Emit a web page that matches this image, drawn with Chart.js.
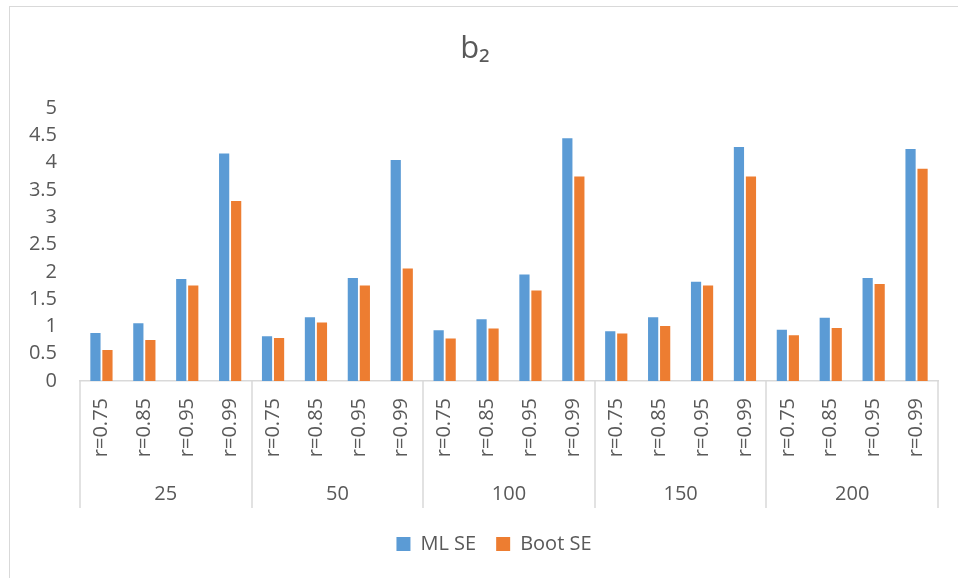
<!DOCTYPE html>
<html>
<head>
<meta charset="utf-8">
<script src="https://cdn.jsdelivr.net/npm/chart.js@4.4.1/dist/chart.umd.min.js"></script>
<style>
  html, body { margin: 0; padding: 0; background: #ffffff; }
  #wrap {
    position: absolute; left: 9px; top: 6px;
    width: 948px; height: 571px;
    border-top: 1px solid #d9d9d9; border-left: 1px solid #d9d9d9;
    background: #ffffff;
  }
  canvas { display: block; }
</style>
</head>
<body>
<div id="wrap"><canvas id="c" width="948" height="571"></canvas></div>
<script>
// ---- data ----
const groups = ['25', '50', '100', '150', '200'];
const rLevels = ['r=0.75', 'r=0.85', 'r=0.95', 'r=0.99'];
const mlSE   = [0.88, 1.06, 1.87, 4.17,  0.82, 1.17, 1.89, 4.05,  0.93, 1.13, 1.95, 4.45,  0.91, 1.17, 1.82, 4.29,  0.94, 1.16, 1.89, 4.25];
const bootSE = [0.57, 0.75, 1.75, 3.30,  0.79, 1.07, 1.75, 2.06,  0.78, 0.96, 1.66, 3.75,  0.87, 1.01, 1.75, 3.75,  0.84, 0.97, 1.78, 3.89];
const seriesNames = ['ML SE', 'Boot SE'];
const yTickLabels = ['0', '0.5', '1', '1.5', '2', '2.5', '3', '3.5', '4', '4.5', '5'];
const titleText = 'b\u2082';

// ---- derived ----
const categories = [];
groups.forEach(() => rLevels.forEach(r => categories.push(r)));

const TXT = '#595959';
const LINE = '#d9d9d9';
const FONT = "'Open Sans', 'Noto Sans', sans-serif";
const GROUP_AXIS_H = 37;
const LEGEND_SHIFT = 19;

const groupLines = {
  id: 'groupLines',
  afterLayout(chart) {
    if (chart.legend) {
      chart.legend.left += LEGEND_SHIFT;
      chart.legend.right += LEGEND_SHIFT;
    }
  },
  afterDraw(chart) {
    const x = chart.scales.x, xg = chart.scales.xg;
    const ctx = chart.ctx;
    ctx.save();
    ctx.strokeStyle = LINE;
    ctx.lineWidth = 1.5;
    for (let g = 0; g <= groups.length; g++) {
      const px = Math.round(x.getPixelForValue(g * rLevels.length - 0.5));
      ctx.beginPath();
      ctx.moveTo(px, chart.chartArea.bottom);
      ctx.lineTo(px, xg.top + GROUP_AXIS_H);
      ctx.stroke();
    }
    ctx.restore();
  }
};

new Chart(document.getElementById('c'), {
  type: 'bar',
  data: {
    labels: categories,
    datasets: [
      { label: seriesNames[0], data: mlSE, backgroundColor: '#5B9BD5', xAxisID: 'x', yAxisID: 'y',
        categoryPercentage: 0.56, barPercentage: 0.85 },
      { label: seriesNames[1], data: bootSE, backgroundColor: '#ED7D31', xAxisID: 'x', yAxisID: 'y',
        categoryPercentage: 0.56, barPercentage: 0.85 }
    ]
  },
  options: {
    responsive: false,
    animation: false,
    layout: { padding: { left: 0, right: 18, top: 0, bottom: 14 } },
    plugins: {
      title: {
        display: true, text: titleText, color: TXT,
        font: { family: FONT, size: 31, weight: 'normal' },
        padding: { top: 24, bottom: 40 }
      },
      legend: {
        position: 'bottom',
        labels: {
          color: TXT, boxWidth: 14, boxHeight: 14, padding: 20,
          font: { family: FONT, size: 20 }
        }
      },
      tooltip: { enabled: false }
    },
    scales: {
      y: {
        min: 0, max: 5,
        ticks: { stepSize: 0.5, color: TXT, padding: 23, font: { family: FONT, size: 20 },
                 callback: (v, i) => yTickLabels[i] },
        grid: { display: false, drawTicks: false },
        border: { display: false },
        afterFit(s) { s.width = 70; }
      },
      x: {
        position: 'bottom', weight: 0,
        ticks: { color: TXT, minRotation: 90, maxRotation: 90, padding: 17, autoSkip: false,
                 font: { family: FONT, size: 20 } },
        grid: { display: false, drawTicks: false },
        border: { display: true, color: LINE, width: 1.5 },
        afterFit(s) { s.height = 90; }
      },
      xg: {
        type: 'category', labels: groups, position: 'bottom', weight: 1, offset: true,
        ticks: { color: TXT, padding: 11, font: { family: FONT, size: 20 } },
        grid: { display: false, drawTicks: false },
        border: { display: false },
        afterFit(s) { s.height = GROUP_AXIS_H + 6; }
      }
    }
  },
  plugins: [groupLines]
});
</script>
</body>
</html>
